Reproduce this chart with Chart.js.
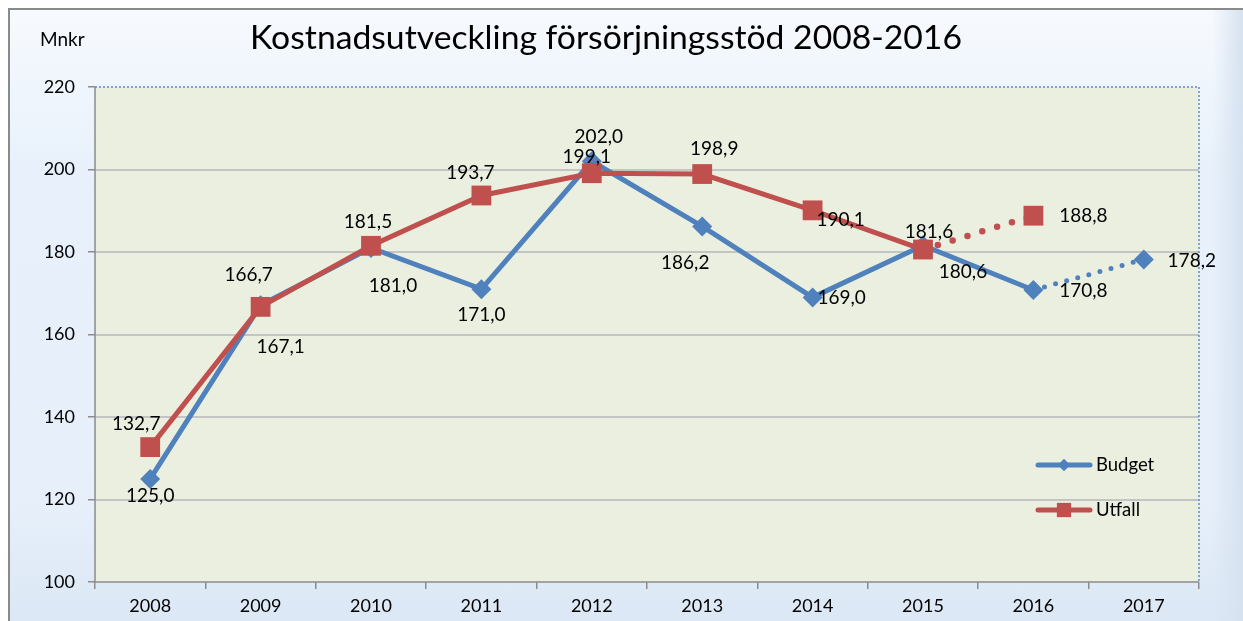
<!DOCTYPE html>
<html>
<head>
<meta charset="utf-8">
<script src="https://cdn.jsdelivr.net/npm/chart.js@4"></script>
<style>
  body { margin: 0; background: #ffffff; }
  #ram {
    position: absolute; left: 8px; top: 8px; width: 1240px; height: 620px;
    border-left: 2px solid #8a8a8a; border-top: 2px solid #8a8a8a;
    background: linear-gradient(to bottom, #f7fafe 0%, #e8f1fb 25%, #e6effa 80%, #dbe7f5 100%);
  }
  #kant {
    position: absolute; left: 1212px; top: 10px; width: 31px; height: 611px;
    background: linear-gradient(to right, rgba(230,239,250,0) 0%, #d6e2f0 100%);
  }
  #graf { position: absolute; left: 0; top: 0; }
</style>
</head>
<body>
<div id="ram"></div>
<div id="kant"></div>
<canvas id="graf" width="1243" height="621"></canvas>
<script>
const ar = ["2008", "2009", "2010", "2011", "2012", "2013", "2014", "2015", "2016", "2017"];
const budget = [125.0, 167.1, 181.0, 171.0, 202.0, 186.2, 169.0, 181.6, 170.8, 178.2];
const utfall = [132.7, 166.7, 181.5, 193.7, 199.1, 198.9, 190.1, 180.6, 188.8, null];
const yTicks = [100, 120, 140, 160, 180, 200, 220];

// var etiketten hamnar relativt punkten (pixlar)
const budgetEtikett = [[0, 17], [20, 42], [22, 38], [0, 26], [7, -24], [-17, 36], [29, 0], [6, -14], [50, 1], [48, 1]];
const utfallEtikett = [[-14, -23], [-12, -32], [-3, -24], [-11, -23], [-5, -16], [12, -25], [28, 10], [40, 22], [50, 0]];

const BLA = "#4F81BD";
const ROD = "#C0504D";
const FONT = "Lato, 'Open Sans', sans-serif";

function tal(v) {
  return v.toFixed(1).replace(".", ",");
}

const ritaExtra = {
  id: "ritaExtra",
  beforeDatasetsDraw(chart) {
    const ctx = chart.ctx;
    const a = chart.chartArea;
    ctx.save();
    ctx.fillStyle = "#EBEFDF";
    ctx.fillRect(a.left, a.top, a.right - a.left, a.bottom - a.top);
    // gridlinjer ovanpå bakgrunden
    const y = chart.scales.y;
    ctx.strokeStyle = "#C4C4C4";
    ctx.lineWidth = 2;
    yTicks.forEach(t => {
      if (t === 100 || t === 220) return;
      const py = Math.round(y.getPixelForValue(t));
      ctx.beginPath();
      ctx.moveTo(a.left, py);
      ctx.lineTo(a.right, py);
      ctx.stroke();
    });
    // prickad ram
    ctx.strokeStyle = "#5B8BC9";
    ctx.lineWidth = 1.5;
    ctx.setLineDash([2, 2]);
    ctx.beginPath();
    ctx.moveTo(a.left, a.top);
    ctx.lineTo(a.right, a.top);
    ctx.lineTo(a.right, a.bottom);
    ctx.stroke();
    ctx.setLineDash([]);
    // axlar
    ctx.strokeStyle = "#8c8c8c";
    ctx.lineWidth = 1.5;
    ctx.beginPath();
    ctx.moveTo(a.left, a.top);
    ctx.lineTo(a.left, a.bottom);
    ctx.lineTo(a.right, a.bottom);
    ctx.stroke();
    ctx.restore();
  },
  afterDatasetsDraw(chart) {
    const ctx = chart.ctx;
    ctx.save();
    ctx.fillStyle = "#000";
    ctx.font = "19px " + FONT;
    ctx.textAlign = "center";
    ctx.textBaseline = "middle";
    const serier = [[0, budget, budgetEtikett], [1, utfall, utfallEtikett]];
    serier.forEach(([i, data, pos]) => {
      const meta = chart.getDatasetMeta(i);
      meta.data.forEach((p, j) => {
        if (data[j] == null) return;
        ctx.fillText(tal(data[j]), p.x + pos[j][0], p.y + pos[j][1]);
      });
    });

    // titel och enhet
    ctx.textAlign = "center";
    ctx.textBaseline = "alphabetic";
    ctx.font = "33.7px " + FONT;
    ctx.fillText("Kostnadsutveckling försörjningsstöd 2008-2016", 606, 49);
    ctx.textAlign = "left";
    ctx.font = "19px " + FONT;
    ctx.fillText("Mnkr", 40, 46);

    // förklaring
    const poster = [["Budget", BLA, "rectRot", 6, 465], ["Utfall", ROD, "rect", 10, 510]];
    poster.forEach(([namn, farg, stil, r, py]) => {
      ctx.strokeStyle = farg;
      ctx.fillStyle = farg;
      ctx.lineWidth = 5;
      ctx.lineCap = "round";
      ctx.beginPath();
      ctx.moveTo(1038, py);
      ctx.lineTo(1090, py);
      ctx.stroke();
      Chart.helpers.drawPoint(ctx, { pointStyle: stil, radius: r, borderWidth: 0 }, 1064, py);
      ctx.fill();
      ctx.fillStyle = "#000";
      ctx.font = "18.5px " + FONT;
      ctx.textBaseline = "middle";
      ctx.fillText(namn, 1096, py);
    });
    ctx.restore();
  }
};

new Chart(document.getElementById("graf"), {
  type: "line",
  data: {
    labels: ar,
    datasets: [
      {
        label: "Budget",
        data: budget,
        borderColor: BLA,
        backgroundColor: BLA,
        borderWidth: 5,
        borderCapStyle: "round",
        pointStyle: "rectRot",
        pointRadius: 10,
        pointBorderWidth: 0,
        pointBackgroundColor: BLA,
        order: 2,
        segment: {
          borderDash: c => (c.p1DataIndex === 9 ? [0, 11.5] : undefined)
        }
      },
      {
        label: "Utfall",
        data: utfall,
        borderColor: ROD,
        backgroundColor: ROD,
        borderWidth: 5,
        borderCapStyle: "round",
        pointStyle: "rect",
        pointRadius: 14,
        pointBorderWidth: 0,
        pointBackgroundColor: ROD,
        order: 1,
        segment: {
          borderDash: c => (c.p1DataIndex === 8 ? [0, 15.5] : undefined),
          borderWidth: c => (c.p1DataIndex === 8 ? 6.5 : undefined)
        }
      }
    ]
  },
  options: {
    responsive: false,
    animation: false,
    layout: { padding: { left: 0, right: 44, top: 87, bottom: 0 } },
    plugins: {
      legend: { display: false },
      tooltip: { enabled: false }
    },
    scales: {
      x: {
        offset: true,
        grid: {
          offset: true,
          drawOnChartArea: false,
          color: "#8c8c8c",
          lineWidth: 1.5,
          tickLength: 7
        },
        border: { display: false },
        ticks: { color: "#000", font: { family: FONT, size: 18 }, padding: 6 },
        afterFit: s => { s.height = 39; }
      },
      y: {
        min: 100,
        max: 220,
        afterBuildTicks: s => { s.ticks = yTicks.map(v => ({ value: v })); },
        grid: {
          drawOnChartArea: false,
          color: "#8c8c8c",
          lineWidth: 1.5,
          tickLength: 7
        },
        border: { display: false },
        ticks: { color: "#000", font: { family: FONT, size: 18 }, padding: 13 },
        afterFit: s => { s.width = 95; }
      }
    }
  },
  plugins: [ritaExtra]
});
</script>
</body>
</html>
